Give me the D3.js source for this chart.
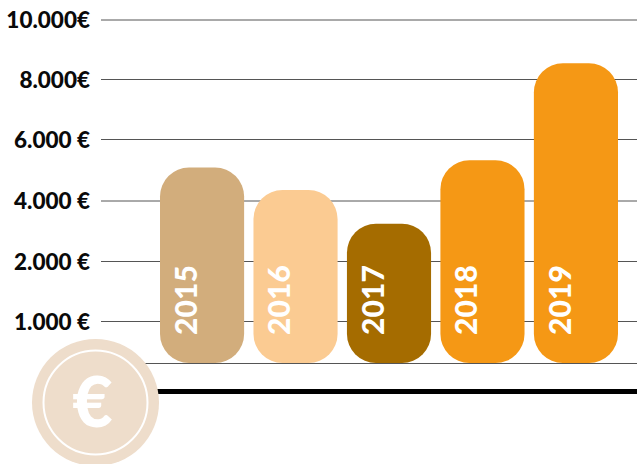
<!DOCTYPE html>
<html lang="en">

<head>
    <meta charset="utf-8">
    <script src='https://d3js.org/d3.v7.min.js'></script>
    <style>
        html, body {
            margin: 0;
            padding: 0;
            background: white;
            overflow: hidden;
        }

        svg text {
            font-family: Lato, sans-serif;
            font-weight: 900;
        }
    </style>
</head>

<body>
    <script>
        let years = ['2015', '2016', '2017', '2018', '2019'];
        let amounts = [5070, 4340, 3230, 5310, 8530];
        let barColors = ['#D2AD7C', '#FBCB92', '#A56C00', '#F59815', '#F59815'];
        let tickValues = [1000, 2000, 4000, 6000, 8000, 10000];
        let tickLabels = ['1.000 €', '2.000 €', '4.000 €', '6.000 €', '8.000€', '10.000€'];

        let width = 637;
        let height = 464;

        let svg = d3.select('body')
            .append('svg')
            .attr('width', width)
            .attr('height', height);

        // the axis in the picture is not even: 0-1000 and 1000-2000 are stretched
        let y = d3.scaleLinear()
            .domain([0, 1000, 2000, 4000, 6000, 8000, 10000])
            .range([363, 321, 261, 200.5, 139, 79, 19.5]);

        let x = d3.scaleBand()
            .domain(years)
            .range([160, 618])
            .paddingInner(0.1);

        // grid lines and labels
        let yAxis = d3.axisLeft(y)
            .tickValues(tickValues)
            .tickSize(-536)
            .tickPadding(11)
            .tickFormat(function(d, i) {
                return tickLabels[i];
            });

        let axisG = svg.append('g')
            .attr('transform', 'translate(101,0)')
            .call(yAxis);

        axisG.select('.domain').remove();
        axisG.selectAll('line')
            .attr('stroke', '#555')
            .attr('stroke-width', 1);
        axisG.selectAll('text')
            .attr('fill', '#0a0a0a')
            .attr('y', null)
            .attr('dy', '.37em')
            .style('font-size', '22.5px')
            .style('font-family', 'Lato, sans-serif')
            .style('font-weight', 900);

        // base lines
        svg.append('line')
            .attr('x1', 101).attr('x2', width)
            .attr('y1', y(0) + 0.5).attr('y2', y(0) + 0.5)
            .attr('stroke', '#555');

        svg.append('rect')
            .attr('x', 101)
            .attr('y', 389)
            .attr('width', width - 101)
            .attr('height', 5)
            .attr('fill', 'black');

        // bars
        let bar = svg.selectAll('g.bar')
            .data(years)
            .enter()
            .append('g')
            .attr('class', 'bar');

        bar.append('rect')
            .attr('x', function(d) { return x(d); })
            .attr('y', function(d, i) { return y(amounts[i]); })
            .attr('width', x.bandwidth())
            .attr('height', function(d, i) { return y(0) - y(amounts[i]); })
            .attr('rx', 29)
            .attr('ry', 29)
            .attr('fill', function(d, i) { return barColors[i]; });

        bar.append('text')
            .attr('transform', function(d) {
                return 'translate(' + (x(d) + 26.5) + ',335) rotate(-90)';
            })
            .attr('dy', '.35em')
            .attr('fill', 'white')
            .attr('textLength', 70)
            .attr('lengthAdjust', 'spacing')
            .style('font-size', '30px')
            .text(function(d) { return d; });

        // euro badge
        let badge = svg.append('g')
            .attr('transform', 'translate(95.5,402.5)');

        badge.append('circle')
            .attr('r', 63.5)
            .attr('fill', '#EEDDCB');

        badge.append('circle')
            .attr('r', 52)
            .attr('fill', 'none')
            .attr('stroke', 'white')
            .attr('stroke-width', 2);

        badge.append('text')
            .attr('text-anchor', 'middle')
            .attr('x', -3)
            .attr('y', 24)
            .attr('fill', 'white')
            .style('font-size', '70px')
            .text('€');
    </script>
</body>

</html>
